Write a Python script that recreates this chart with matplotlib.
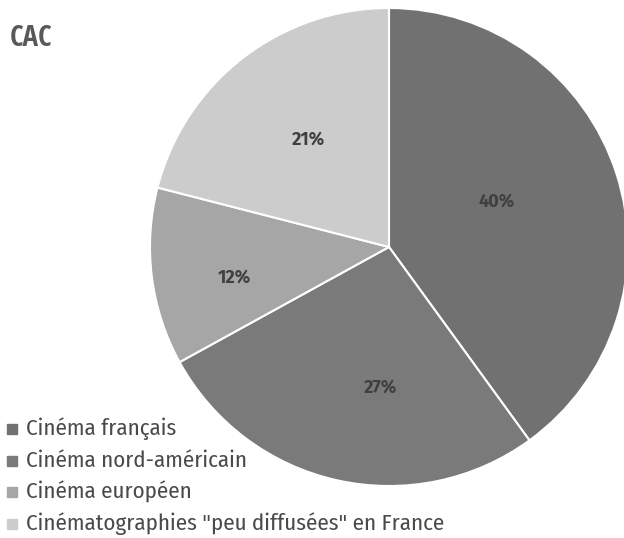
import numpy as np
import matplotlib.pyplot as plt
from matplotlib.patches import Rectangle

# data
categories = ['Cinéma français', 'Cinéma nord-américain', 'Cinéma européen',
              'Cinématographies "peu diffusées" en France']
shares = [40, 27, 12, 21]
colors = ['#717171', '#7a7a7a', '#a6a6a6', '#cccccc']
title = 'CAC'

W, H = 624, 538
cx, cy, R = 389, 247, 239  # pie centre / radius in pixels

fig = plt.figure(figsize=(W / 100, H / 100), dpi=100)
ax = fig.add_axes([0, 0, 1, 1])

wedges, _ = ax.pie(shares, colors=colors, startangle=90, counterclock=False,
                   radius=1, wedgeprops=dict(edgecolor='white', linewidth=1.5))
ax.set_xlim(-cx / R, (W - cx) / R)
ax.set_ylim(-(H - cy) / R, cy / R)
ax.set_aspect('equal')
ax.axis('off')

# percentage labels (per-wedge radial distance / angle tweak)
label_r = [0.49, 0.59, 0.66, 0.56]
label_da = [5, 9, 4, -1]
for w, v, r, da in zip(wedges, shares, label_r, label_da):
    a = np.deg2rad((w.theta1 + w.theta2) / 2 + da)
    ax.text(r * np.cos(a), r * np.sin(a), f'{v}%', ha='center', va='center',
            fontsize=13, fontweight='bold', color='#404040',
            family='Fira Sans')

# title
fig.text(10 / W, 1 - 38 / H, title, ha='left', va='center', fontsize=21,
         fontweight='bold', color='#595959', family='Open Sans Condensed')

# legend
for i, (lab, c) in enumerate(zip(categories, colors)):
    y = 1 - (429 + i * 31.5) / H
    fig.patches.append(Rectangle((7 / W, y - 5 / H), 10 / W, 10 / H,
                                 transform=fig.transFigure, color=c))
    fig.text(26 / W, y, lab, ha='left', va='center', fontsize=16.5,
             color='#4a4a4a', family='Fira Sans Condensed')

fig.savefig('out.png', dpi=100)
